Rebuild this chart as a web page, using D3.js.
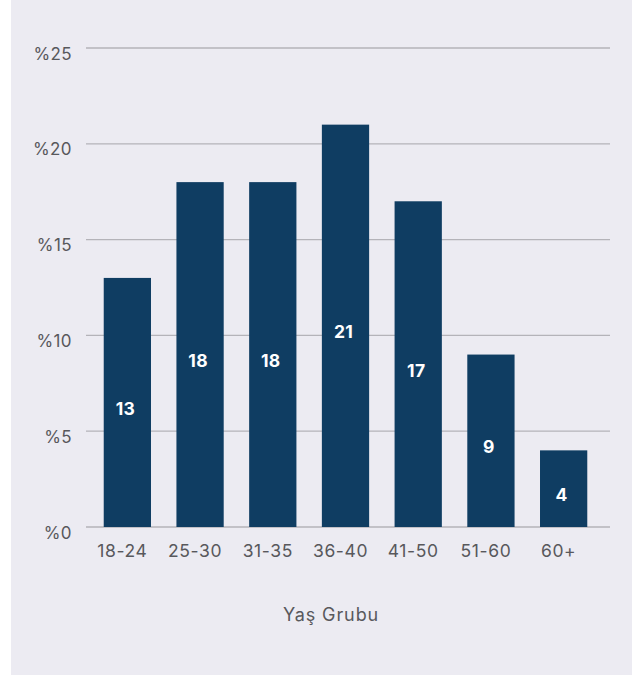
<!DOCTYPE html>
<html>
<head>
<meta charset="utf-8">
<script src="https://cdn.jsdelivr.net/npm/d3@7"></script>
<style>
  html, body { margin: 0; padding: 0; background: #ffffff; }
  svg { display: block; }
  text { font-family: Inter, "Open Sans", sans-serif; }
</style>
</head>
<body>
<svg id="chart" width="635" height="677"></svg>
<script>
// Age groups and the share of respondents in each (percent)
const categories = ["18-24", "25-30", "31-35", "36-40", "41-50", "51-60", "60+"];
const values = [13, 18, 18, 21, 17, 9, 4];
const yTicks = [0, 5, 10, 15, 20, 25];
const xTitle = "Yaş Grubu";

const FONT = "Inter, 'Open Sans', sans-serif";
const svg = d3.select("#chart");

// panel background
svg.append("rect")
  .attr("x", 11).attr("y", 0)
  .attr("width", 621).attr("height", 675)
  .attr("fill", "#ecebf2");

const x = d3.scaleBand()
  .domain(categories)
  .range([91, 600])
  .paddingInner(0.35)
  .paddingOuter(0.175);

const y = d3.scaleLinear()
  .domain([0, 25])
  .range([527, 48]);

// horizontal grid lines
svg.append("g").selectAll("line")
  .data(yTicks)
  .join("line")
  .attr("x1", 86).attr("x2", 610)
  .attr("y1", d => y(d)).attr("y2", d => y(d))
  .attr("stroke", "#b4b3b9")
  .attr("stroke-width", 1.3);

// y axis labels
const yAxis = d3.axisLeft(y)
  .tickValues(yTicks)
  .tickFormat(d => "%" + d)
  .tickSize(0)
  .tickPadding(0);
const gy = svg.append("g").attr("transform", "translate(72,0)").call(yAxis);
gy.select(".domain").remove();
gy.selectAll("text")
  .attr("dy", 11)
  .attr("fill", "#58585c")
  .attr("font-size", 17)
  .attr("letter-spacing", 0.4)
  .attr("font-family", FONT);

// bars
svg.append("g").selectAll("rect")
  .data(values)
  .join("rect")
  .attr("x", (d, i) => x(categories[i]))
  .attr("y", d => y(d))
  .attr("width", x.bandwidth())
  .attr("height", d => y(0) - y(d))
  .attr("fill", "#0f3d62");

// value labels, a little below the middle of each bar
svg.append("g").selectAll("text")
  .data(values)
  .join("text")
  .attr("x", (d, i) => x(categories[i]) + x.bandwidth() / 2)
  .attr("y", d => (y(d) + y(0)) / 2 + 12.5)
  .attr("dx", -2)
  .attr("text-anchor", "middle")
  .attr("fill", "#ffffff")
  .attr("font-weight", 700)
  .attr("font-size", 17.5)
  .attr("letter-spacing", 0.3)
  .text(d => d);

// x axis labels
const xAxis = d3.axisBottom(x).tickSize(0).tickPadding(0);
const gx = svg.append("g").attr("transform", "translate(0,557)").call(xAxis);
gx.select(".domain").remove();
gx.selectAll("text")
  .attr("dy", 0)
  .attr("y", 0)
  .attr("dx", -5)
  .attr("fill", "#58585c")
  .attr("font-size", 17.5)
  .attr("letter-spacing", 0.6)
  .attr("font-family", FONT);

// x axis title
svg.append("text")
  .attr("x", 331).attr("y", 621)
  .attr("text-anchor", "middle")
  .attr("fill", "#58585c")
  .attr("font-size", 18)
  .attr("letter-spacing", 0.9)
  .text(xTitle);
</script>
</body>
</html>
